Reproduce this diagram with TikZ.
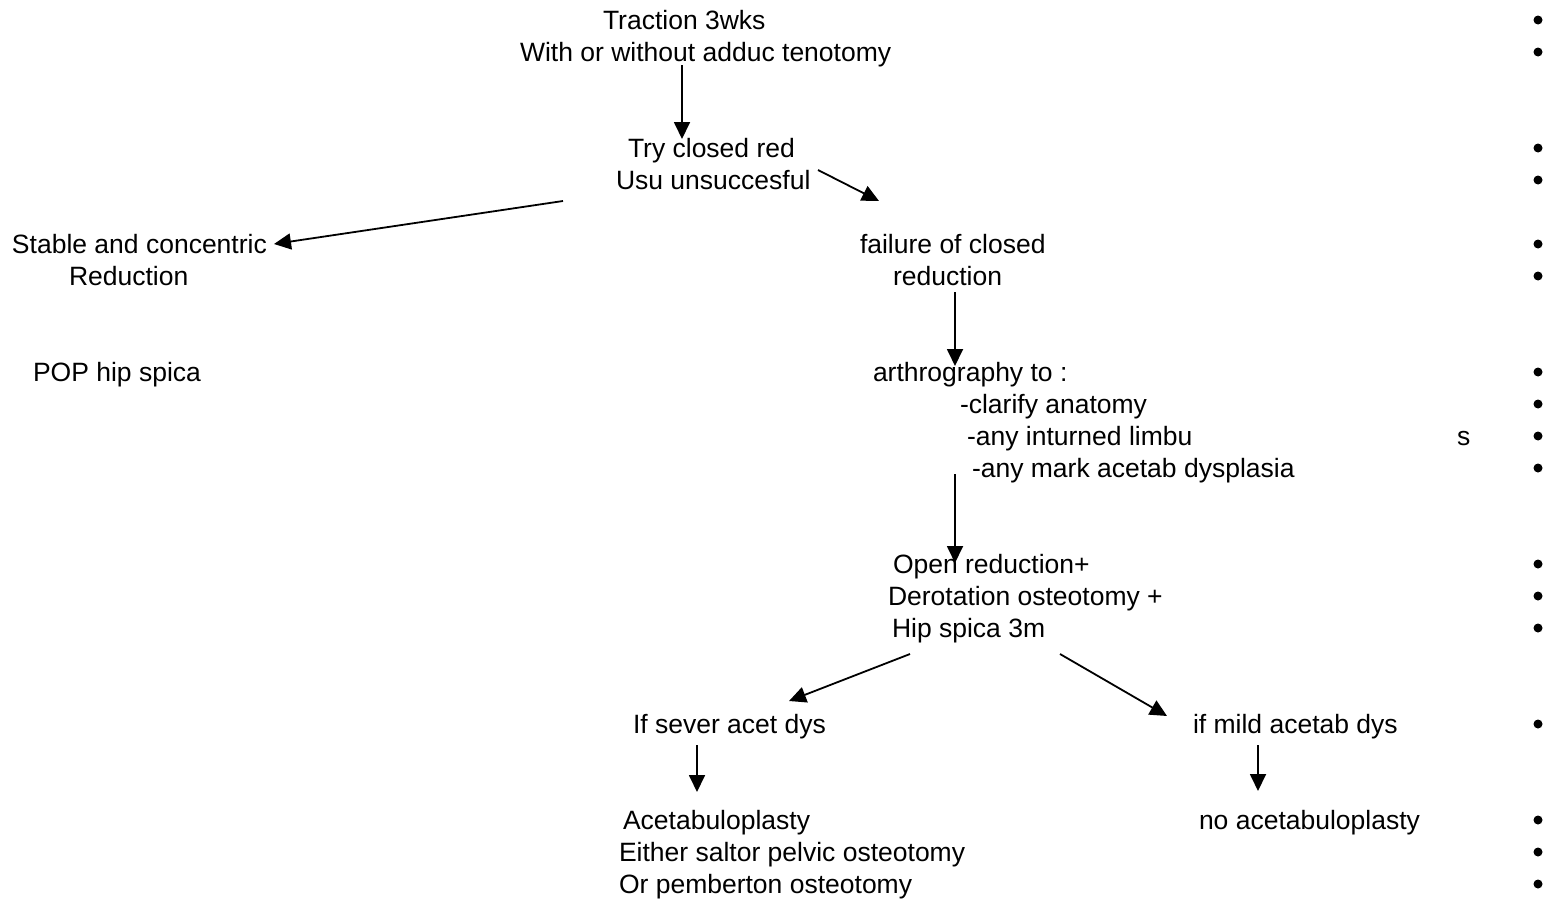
\documentclass[tikz,border=0pt]{standalone}
\usepackage{fontspec}
\setmainfont{Liberation Sans}
\usetikzlibrary{arrows.meta}
\begin{document}
\begin{tikzpicture}[x=1pt,y=-1pt,
  txt/.style={anchor=base west,inner sep=0pt,outer sep=0pt,font=\fontsize{26.5}{32}\selectfont},
  bul/.style={circle,fill=black,inner sep=0pt,outer sep=0pt,minimum size=9pt},
  arr/.style={line width=1.8pt,-{Triangle[length=17pt,width=16pt]}}]
\useasboundingbox (0,0) rectangle (1548,900);
% text lines
\node[txt] (t1) at (603,29) {Traction 3wks};
\node[txt] (t2) at (520,61) {With or without adduc tenotomy};
\node[txt] (c1) at (628,157) {Try closed red};
\node[txt] (c2) at (616,189) {Usu unsuccesful};
\node[txt] (s1) at (12,253) {Stable and concentric};
\node[txt] (s2) at (69,285) {Reduction};
\node[txt] (f1) at (860,253) {failure of closed};
\node[txt] (f2) at (893,285) {reduction};
\node[txt] (pop) at (33,381) {POP hip spica};
\node[txt] (a1) at (873,381) {arthrography to :};
\node[txt] (a2) at (960,413) {-clarify anatomy};
\node[txt] (a3) at (967,445) {-any inturned limbu};
\node[txt] (a3s) at (1457,445) {s};
\node[txt] (a4) at (972,477) {-any mark acetab dysplasia};
\node[txt] (o1) at (893,573) {Open reduction+};
\node[txt] (o2) at (888,605) {Derotation osteotomy +};
\node[txt] (o3) at (892,637) {Hip spica 3m};
\node[txt] (sev) at (633,733) {If sever acet dys};
\node[txt] (mild) at (1193,733) {if mild acetab dys};
\node[txt] (e1) at (623,829) {Acetabuloplasty};
\node[txt] (e2) at (619,861) {Either saltor pelvic osteotomy};
\node[txt] (e3) at (619,893) {Or pemberton osteotomy};
\node[txt] (no) at (1199,829) {no acetabuloplasty};
% bullets
\foreach \yy/\nm in {20/b1,52/b2,148/b3,180/b4,244/b5,276/b6,372/b7,404/b8,436/b9,468/b10,564/b11,596/b12,628/b13,724/b14,820/b15,852/b16,884/b17}
  \node[bul] (\nm) at (1538,\yy) {};
% arrow endpoints
\coordinate (p1s) at (682,65);   \coordinate (p1e) at (682,139);
\coordinate (p2s) at (818,170);  \coordinate (p2e) at (879,201);
\coordinate (p3s) at (563,201);  \coordinate (p3e) at (274,244);
\coordinate (p4s) at (955,292);  \coordinate (p4e) at (955,366);
\coordinate (p5s) at (955,474);  \coordinate (p5e) at (955,563);
\coordinate (p6s) at (910,654);  \coordinate (p6e) at (789,701);
\coordinate (p7s) at (1060,654); \coordinate (p7e) at (1167,716);
\coordinate (p8s) at (697,745);  \coordinate (p8e) at (697,792);
\coordinate (p9s) at (1258,745); \coordinate (p9e) at (1258,791);
\draw[arr] (p1s) -- (p1e);
\draw[arr] (p2s) -- (p2e);
\draw[arr] (p3s) -- (p3e);
\draw[arr] (p4s) -- (p4e);
\draw[arr] (p5s) -- (p5e);
\draw[arr] (p6s) -- (p6e);
\draw[arr] (p7s) -- (p7e);
\draw[arr] (p8s) -- (p8e);
\draw[arr] (p9s) -- (p9e);
\end{tikzpicture}
\end{document}
